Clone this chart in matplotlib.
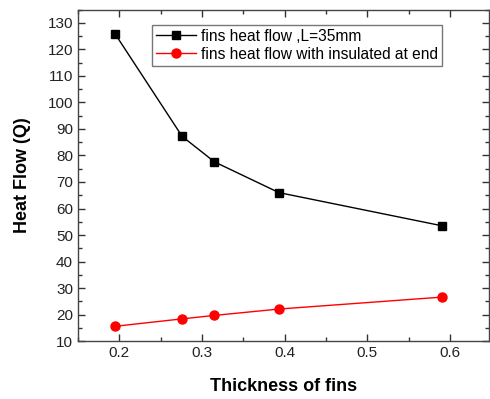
import matplotlib
matplotlib.use("Agg")
import matplotlib.pyplot as plt
from matplotlib.ticker import MultipleLocator

plt.rcParams['font.family'] = ['Liberation Sans', 'DejaVu Sans']

thickness = [0.195, 0.276, 0.315, 0.393, 0.590]
heat_flow = [125.8, 87.2, 77.6, 66.0, 53.5]
heat_flow_insulated = [15.6, 18.4, 19.7, 22.1, 26.6]
labels = ["fins heat flow ,L=35mm", "fins heat flow with insulated at end"]

fig = plt.figure(figsize=(4.9, 3.99), dpi=100)
ax = fig.add_axes([0.159, 0.145, 0.839, 0.831])

ax.plot(thickness, heat_flow, color='black', lw=1.0, marker='s', ms=6, label=labels[0])
ax.plot(thickness, heat_flow_insulated, color='red', lw=1.0, marker='o', ms=6.5, label=labels[1])

ax.set_xlim(0.15, 0.647)
ax.set_ylim(10, 135)
ax.xaxis.set_major_locator(MultipleLocator(0.1))
ax.xaxis.set_minor_locator(MultipleLocator(0.05))
ax.yaxis.set_major_locator(MultipleLocator(10))
ax.yaxis.set_minor_locator(MultipleLocator(5))
ax.tick_params(which='both', direction='in', top=True, right=True, labelsize=11, colors='#333333', labelcolor='#222222')
ax.tick_params(which='major', length=5, width=1)
ax.tick_params(which='minor', length=3, width=1)
for s in ax.spines.values():
    s.set_linewidth(1.0)
    s.set_color('#444444')

ax.set_xlabel("Thickness of fins", fontsize=13, fontweight='bold', labelpad=13)
ax.set_ylabel("Heat Flow (Q)", fontsize=13, fontweight='bold', labelpad=12)

leg = ax.legend(loc='upper left', bbox_to_anchor=(0.168, 0.968), fontsize=11.2, frameon=True,
                fancybox=False, edgecolor='#555555', borderpad=0.25, labelspacing=0.2,
                handlelength=2.6, handletextpad=0.3, borderaxespad=0.3)
leg.get_frame().set_linewidth(1.0)

fig.savefig("out.png", dpi=100)
